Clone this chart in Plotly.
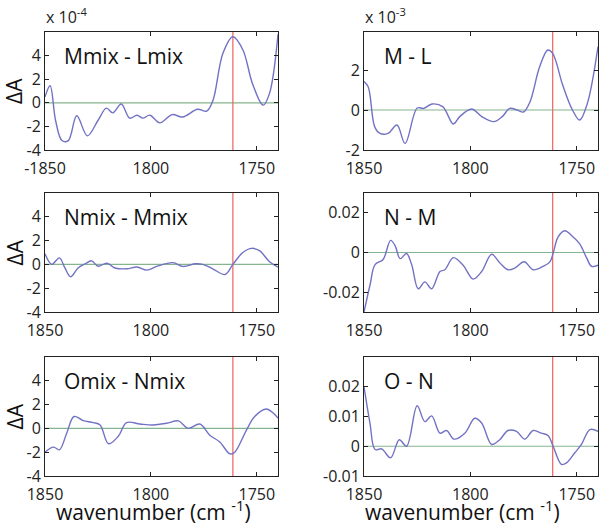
import plotly.graph_objects as go

# ---------------- data ----------------
# Panel 1: Mmix - Lmix (x 1e-4)
wn1 = [1850, 1847.6, 1845, 1842, 1839, 1835, 1830, 1825, 1821, 1818, 1814, 1810, 1806.6, 1803.8, 1800.5,
       1795.8, 1790, 1785, 1778, 1773.6, 1770.7, 1766, 1761.3, 1756.6, 1752, 1747, 1744, 1740]
dA1 = [0.5, 1.45, -1.5, -3.2, -3.2, -1.1, -2.8, -1.5, -0.45, -0.85, -0.1, -1.3, -1.05, -1.3, -1.05,
       -1.7, -1.0, -1.2, -0.55, -0.7, 0.2, 4.2, 5.6, 4.5, 1.6, -0.2, 0.8, 5.8]

# Panel 2: M - L (x 1e-3)
wn2 = [1850, 1848, 1845, 1842.5, 1838.7, 1834.5, 1830.7, 1825, 1822, 1818, 1813, 1808, 1805, 1799.4,
       1794.6, 1789, 1785, 1781.5, 1778, 1775, 1772, 1767.4, 1763.6, 1761.3, 1756.6, 1752, 1748.6, 1745, 1740]
dA2 = [1.42, 1.15, -0.83, -1.17, -1.17, -0.75, -1.67, 0.1, 0.08, 0.3, 0.17, -0.7, -0.33, 0.05,
       -0.33, -0.58, -0.33, 0.08, 0.0, -0.1, 0.4, 2.17, 3.0, 2.83, 1.25, 0.0, -0.5, 0.33, 3.17]

# Panel 3: Nmix - Mmix (x 1e-4)
wn3 = [1850, 1846.8, 1843.2, 1840.6, 1837.9, 1834.4, 1831, 1828, 1825, 1820.8, 1817, 1811.3, 1806.6,
       1801.9, 1797, 1789.6, 1784.9, 1779, 1775.5, 1770.8, 1765, 1761.3, 1756.6, 1752.4, 1748.6, 1744, 1740]
dA3 = [0.9, 0.0, 0.55, -0.3, -1.05, -0.3, 0.05, 0.3, -0.15, 0.1, -0.3, -0.37, -0.22,
       -0.48, -0.15, 0.15, -0.17, 0.05, 0.0, -0.37, -0.85, 0.0, 1.0, 1.35, 1.13, 0.22, -0.23]

# Panel 4: N - M
wn4 = [1850, 1847.2, 1844.8, 1841, 1837.5, 1835.4, 1833, 1830, 1827.6, 1824.5, 1821.4, 1818.2, 1814.3,
       1812, 1808, 1803.4, 1798.7, 1794.7, 1790, 1786.2, 1782.3, 1779, 1774.7, 1770.5, 1765.8, 1762.6,
       1761, 1758.8, 1755.6, 1751.7, 1748.6, 1745.4, 1743, 1740]
dA4 = [-0.030, -0.0165, -0.0061, -0.0035, 0.0061, 0.0035, -0.0031, -0.0005, -0.0061, -0.0183, -0.0148,
       -0.0183, -0.0096, -0.0087, -0.0026, -0.0064, -0.0134, -0.0096, -0.0009, -0.0052, -0.0087, -0.0078,
       -0.0047, -0.0087, -0.007, -0.0047, 0.0, 0.0078, 0.011, 0.0078, 0.0043, -0.0026, -0.007, -0.0064]

# Panel 5: Omix - Nmix (x 1e-4)
wn5 = [1850, 1846, 1843.2, 1839.8, 1836.3, 1832, 1827.2, 1824, 1820, 1815.4, 1811.5, 1805.2, 1799,
       1792.6, 1787, 1782.4, 1776.9, 1772.2, 1767.5, 1762.7, 1760.4, 1754.9, 1751, 1745.5, 1742.3, 1740]
dA5 = [-2.0, -1.57, -1.8, -0.43, 1.0, 0.66, 0.49, 0.29, -1.29, -0.66, 0.49, 0.37, 0.29,
       0.43, 0.63, 0.0, 0.37, -0.57, -1.14, -2.14, -2.0, -0.14, 1.0, 1.63, 1.29, 0.86]

# Panel 6: O - N
wn6 = [1850, 1847.2, 1844.8, 1841.7, 1837.5, 1833.4, 1830, 1825, 1821.4, 1818.2, 1814.3, 1811.2, 1807.7,
       1802.6, 1797.9, 1794.7, 1790, 1786.2, 1782.3, 1778.3, 1774.4, 1770.5, 1766.6, 1763.5, 1761.1,
       1757.2, 1754.8, 1750.9, 1747.8, 1743.8, 1740]
dA6 = [0.02, 0.0078, -0.0011, -0.0009, -0.0039, 0.0022, 0.0, 0.0136, 0.0083, 0.0102, 0.0044, 0.0053,
       0.0024, 0.0044, 0.0094, 0.0078, 0.0006, 0.0022, 0.0053, 0.005, 0.0024, 0.0053, 0.0044, 0.0036,
       0.0, -0.0061, -0.0056, -0.0022, 0.0006, 0.0056, 0.005]

panel_labels = ["Mmix - Lmix", "M - L", "Nmix - Mmix", "N - M", "Omix - Nmix", "O - N"]
red_line_wn = 1761.3
x_range = [1850, 1740]
x_tickvals = [1850, 1800, 1750]
x_ticktext_first = ["-1850", "1800", "1750"]
x_ticktext = ["1850", "1800", "1750"]

y_ranges = [[-4, 6], [-2, 3.9], [-4, 6], [-0.03, 0.03], [-4, 6], [-0.01, 0.03]]
y_ticks = [[-4, -2, 0, 2, 4], [-2, 0, 2], [-4, -2, 0, 2, 4], [-0.02, 0, 0.02],
           [-4, -2, 0, 2, 4], [-0.01, 0, 0.01, 0.02]]
y_ticktext = [["-4", "-2", "0", "2", "4"], ["-2", "0", "2"], ["-4", "-2", "0", "2", "4"],
              ["-0.02", "0", "0.02"], ["-4", "-2", "0", "2", "4"], ["-0.01", "0", "0.01", "0.02"]]

series = [(wn1, dA1), (wn2, dA2), (wn3, dA3), (wn4, dA4), (wn5, dA5), (wn6, dA6)]

# ---------------- layout geometry ----------------
W, H = 600, 526
x_doms = [[45 / W, 278 / W], [364 / W, 598 / W]]
y_doms = [[1 - 150 / H, 1 - 32 / H], [1 - 312 / H, 1 - 193 / H], [1 - 476 / H, 1 - 357 / H]]

FONT = "Open Sans, DejaVu Sans, sans-serif"
LINE_COLOR = "#7272c4"
RED = "#ee6060"
GREEN = "#86b48e"
AX = "#222222"

fig = go.Figure()
layout = dict(width=W, height=H, margin=dict(l=0, r=0, t=0, b=0, autoexpand=False),
              paper_bgcolor="white", plot_bgcolor="white", showlegend=False,
              font=dict(family=FONT, size=16, color="#222"))
annotations = []

for i, (wn, dA) in enumerate(series):
    row, col = i // 2, i % 2
    k = i + 1
    xa = "x" if k == 1 else f"x{k}"
    ya = "y" if k == 1 else f"y{k}"
    xkey = "xaxis" if k == 1 else f"xaxis{k}"
    ykey = "yaxis" if k == 1 else f"yaxis{k}"
    yr = y_ranges[i]
    # zero line (green)
    fig.add_trace(go.Scatter(x=x_range, y=[0, 0], mode="lines", xaxis=xa, yaxis=ya,
                             line=dict(color=GREEN, width=1.2), hoverinfo="skip"))
    # red marker line
    fig.add_trace(go.Scatter(x=[red_line_wn, red_line_wn], y=yr, mode="lines", xaxis=xa, yaxis=ya,
                             line=dict(color=RED, width=1.2), hoverinfo="skip"))
    # spectrum
    fig.add_trace(go.Scatter(x=wn, y=dA, mode="lines", xaxis=xa, yaxis=ya,
                             line=dict(color=LINE_COLOR, width=1.4, shape="spline", smoothing=1.0)))
    layout[xkey] = dict(domain=x_doms[col], range=x_range, anchor=ya, automargin=False,
                        tickvals=x_tickvals,
                        ticktext=x_ticktext_first if i == 0 else x_ticktext,
                        ticks="inside", ticklen=4, tickcolor=AX, showline=True, linecolor=AX,
                        linewidth=1, mirror="ticks", showgrid=False, zeroline=False,
                        ticklabelstandoff=4,
                        tickfont=dict(size=16), fixedrange=True)
    layout[ykey] = dict(domain=y_doms[row], range=yr, anchor=xa, automargin=False,
                        tickvals=y_ticks[i], ticktext=y_ticktext[i],
                        ticks="inside", ticklen=4, tickcolor=AX, showline=True, linecolor=AX,
                        linewidth=1, mirror="ticks", showgrid=False, zeroline=False,
                        tickfont=dict(size=16), fixedrange=True)
    # panel label
    annotations.append(dict(text=panel_labels[i], xref=f"{xa} domain", yref=f"{ya} domain",
                            x=0.075, y=0.80, xanchor="left", yanchor="middle",
                            showarrow=False, font=dict(size=21, color="#111")))
    if col == 0:
        annotations.append(dict(text="ΔA", xref="paper", yref="paper", x=14 / W,
                                y=sum(y_doms[row]) / 2, textangle=-90, showarrow=False,
                                xanchor="center", yanchor="middle", font=dict(size=21, color="#111")))

annotations.append(dict(text="x 10<sup>-4</sup>", xref="paper", yref="paper", x=44 / W, y=1 - 16 / H,
                        xanchor="left", yanchor="middle", showarrow=False, font=dict(size=16)))
annotations.append(dict(text="x 10<sup>-3</sup>", xref="paper", yref="paper", x=363 / W, y=1 - 16 / H,
                        xanchor="left", yanchor="middle", showarrow=False, font=dict(size=16)))
for xc in [153, 462]:
    annotations.append(dict(text="wavenumber (cm <sup>-1</sup>)", xref="paper", yref="paper",
                            x=xc / W, y=0, xanchor="center", yanchor="bottom", yshift=-2,
                            showarrow=False, font=dict(size=21, color="#111")))

layout["annotations"] = annotations
fig.update_layout(**layout)
fig.write_html("out.html", config={"displayModeBar": False, "staticPlot": True},
               post_script="document.body.style.margin='0';document.body.style.overflow='hidden';")
